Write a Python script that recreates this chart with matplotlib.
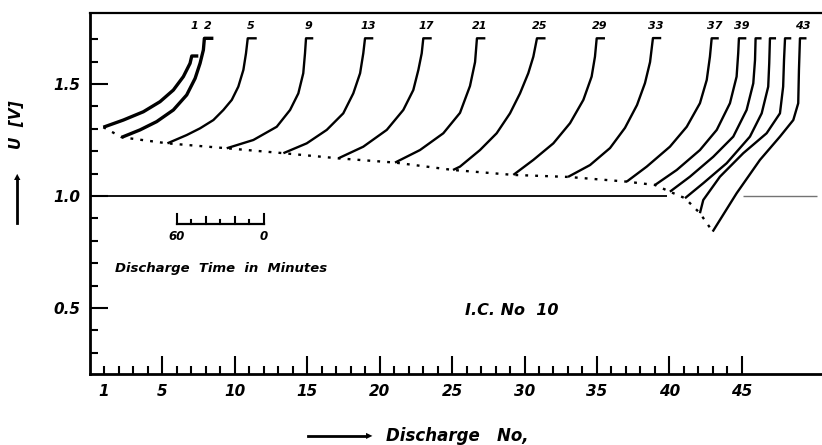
import numpy as np
from matplotlib import pyplot as plt

# charge curves, one per discharge number: x on the discharge axis, U in volts
x1 = [0.95, 2.33, 3.71, 4.86, 5.78, 6.47, 6.93, 7.05, 7.50]
u1 = [1.307, 1.339, 1.376, 1.421, 1.473, 1.533, 1.592, 1.625, 1.625]
x2 = [2.22, 3.48, 4.63, 5.78, 6.70, 7.28, 7.62, 7.85, 7.92, 8.54]
u2 = [1.262, 1.295, 1.332, 1.384, 1.451, 1.525, 1.592, 1.652, 1.704, 1.704]
x5 = [5.37, 6.70, 7.62, 8.54, 9.23, 9.81, 10.26, 10.61, 10.79, 10.91, 11.53]
u5 = [1.235, 1.272, 1.302, 1.339, 1.384, 1.429, 1.488, 1.563, 1.637, 1.704, 1.704]
x9 = [9.46, 11.30, 12.91, 13.83, 14.40, 14.74, 14.86, 14.93, 15.43]
u9 = [1.213, 1.250, 1.309, 1.384, 1.458, 1.548, 1.637, 1.704, 1.704]
x13 = [13.37, 14.98, 16.36, 17.50, 18.19, 18.66, 18.88, 19.00, 19.57]
u13 = [1.191, 1.235, 1.295, 1.369, 1.458, 1.548, 1.637, 1.704, 1.704]
x17 = [17.16, 18.88, 20.50, 21.64, 22.33, 22.68, 22.91, 23.02, 23.60]
u17 = [1.168, 1.220, 1.295, 1.384, 1.473, 1.563, 1.637, 1.704, 1.704]
x21 = [21.07, 22.79, 24.40, 25.55, 26.24, 26.59, 26.72, 27.30]
u21 = [1.149, 1.205, 1.280, 1.371, 1.491, 1.598, 1.704, 1.704]
x25 = [25.07, 25.55, 26.93, 28.08, 29.00, 29.69, 30.26, 30.61, 30.86, 31.45]
u25 = [1.116, 1.131, 1.205, 1.280, 1.369, 1.458, 1.548, 1.622, 1.704, 1.704]
x29 = [29.23, 30.61, 31.99, 33.14, 34.06, 34.63, 34.86, 34.98, 35.55]
u29 = [1.094, 1.161, 1.235, 1.325, 1.429, 1.533, 1.622, 1.704, 1.704]
x33 = [33.00, 34.52, 35.90, 36.93, 37.76, 38.31, 38.66, 38.86, 39.43]
u33 = [1.085, 1.138, 1.214, 1.304, 1.406, 1.504, 1.598, 1.705, 1.705]
x37 = [37.05, 38.43, 40.03, 41.19, 42.10, 42.57, 42.79, 42.91, 43.40]
u37 = [1.064, 1.131, 1.220, 1.309, 1.414, 1.518, 1.622, 1.704, 1.704]
x39 = [39.00, 40.50, 42.10, 43.26, 44.17, 44.63, 44.74, 44.79, 45.30]
u39 = [1.049, 1.116, 1.205, 1.295, 1.414, 1.533, 1.637, 1.704, 1.704]
x40 = [40.03, 41.41, 43.02, 44.40, 45.32, 45.78, 45.90, 45.94, 46.35]
u40 = [1.019, 1.086, 1.175, 1.265, 1.384, 1.503, 1.607, 1.704, 1.704]
x41 = [41.07, 42.33, 43.94, 45.55, 46.36, 46.81, 46.88, 46.93, 47.35]
u41 = [0.990, 1.057, 1.146, 1.265, 1.369, 1.488, 1.592, 1.704, 1.704]
x42 = [42.10, 42.33, 43.48, 45.09, 46.70, 47.62, 47.84, 47.90, 47.97, 48.40]
u42 = [0.923, 0.982, 1.086, 1.191, 1.280, 1.369, 1.488, 1.607, 1.704, 1.704]
x43 = [42.98, 44.63, 46.24, 47.62, 48.54, 48.88, 48.93, 49.00, 49.45]
u43 = [0.841, 1.012, 1.161, 1.265, 1.339, 1.414, 1.563, 1.704, 1.704]

curve_no = [1, 2, 5, 9, 13, 17, 21, 25, 29, 33, 37, 39, 40, 41, 42, 43]
curve_x = [x1, x2, x5, x9, x13, x17, x21, x25, x29, x33, x37, x39, x40, x41, x42, x43]
curve_u = [u1, u2, u5, u9, u13, u17, u21, u25, u29, u33, u37, u39, u40, u41, u42, u43]
labelled = [1, 2, 5, 9, 13, 17, 21, 25, 29, 33, 37, 39, 43]

x_ticks = [1, 5, 10, 15, 20, 25, 30, 35, 40, 45]
y_ticks = [0.5, 1.0, 1.5]
scale_min = [0, 10, 20, 30, 40, 50, 60]

font = dict(family="DejaVu Sans", weight="bold", style="italic")

fig = plt.figure(figsize=(8.22, 4.45), dpi=100)
ax = fig.add_axes([90 / 822, 1 - 374 / 445, 1 - 90 / 822, (374 - 13) / 445])

# reference line at 1.0 V (interrupted where the last curves cross it)
ax.hlines(1.0, 0, 39.8, color="k", lw=1.3)
ax.hlines(1.0, 45.1, 50.2, color="0.45", lw=1.0)

for n, xs, us in zip(curve_no, curve_x, curve_u):
    lw = 2.4 if n <= 2 else 1.7
    ax.plot(xs, us, c="k", lw=lw, solid_joinstyle="round", solid_capstyle="butt")
    if n in labelled:
        top = int(np.argmax(us))
        ax.text(xs[top] + 0.2, 1.76, str(n), ha="center", va="center",
                fontsize=8, **font)

# end-of-discharge voltages joined by the dotted line
ax.plot([xs[0] for xs in curve_x], [us[0] for us in curve_u],
        c="k", lw=1.7, ls=(0, (1.2, 3.0)))

# time scale bar (60 ... 0 minutes)
bar_x = [12 - m / 10 for m in scale_min]
ax.plot([bar_x[0], bar_x[-1]], [0.875, 0.875], c="k", lw=1.6)
for m, bx in zip(scale_min, bar_x):
    h = 0.045 if m in (0, 60) else (0.03 if m in (20, 40) else 0.018)
    ax.plot([bx, bx], [0.875, 0.875 + h], c="k", lw=1.5)
ax.text(bar_x[-1], 0.82, "60", ha="center", va="center", fontsize=8.5, **font)
ax.text(bar_x[0], 0.82, "0", ha="center", va="center", fontsize=8.5, **font)
ax.text(1.75, 0.674, "Discharge  Time  in  Minutes", ha="left", va="center",
        fontsize=9.5, **font)
ax.text(25.9, 0.487, "I.C. No  10", ha="left", va="center", fontsize=11.5, **font)

ax.set_xlim(0.03, 50.52)
ax.set_ylim(0.205, 1.817)

ax.set_xticks(x_ticks)
ax.set_xticklabels([str(t) for t in x_ticks], fontsize=11, **font)
ax.set_xticks([i for i in range(2, 45) if i % 5 != 0], minor=True)
ax.set_yticks(y_ticks)
ax.set_yticklabels([f"{t:.1f}" for t in y_ticks], fontsize=11, **font)
ax.set_yticks(np.arange(0.3, 1.75, 0.1), minor=True)
ax.tick_params(which="both", direction="in", width=1.5, top=False, right=False)
ax.tick_params(which="major", length=13, pad=7)
ax.tick_params(which="minor", length=6)
ax.xaxis.get_major_ticks()[0].tick1line.set_markersize(6)

ax.spines["right"].set_visible(False)
ax.spines["left"].set_linewidth(2.0)
ax.spines["bottom"].set_linewidth(2.0)
ax.spines["top"].set_linewidth(1.6)

# axis titles with the arrows of the original drawing
fig.text(16 / 822, 1 - 125 / 445, "U  [V]", rotation=90, ha="center",
         va="center", fontsize=11, **font)
fig.add_artist(plt.Line2D([17 / 822, 17 / 822], [1 - 223 / 445, 1 - 180 / 445],
                          color="k", lw=2))
fig.text(17 / 822, 1 - 177 / 445, "\u25b2", ha="center", va="center", fontsize=6)
fig.add_artist(plt.Line2D([308 / 822, 366 / 822], [1 - 436 / 445, 1 - 436 / 445],
                          color="k", lw=2))
fig.text(369 / 822, 1 - 436 / 445, "\u25b6", ha="center", va="center", fontsize=6)
fig.text(386 / 822, 1 - 436 / 445, "Discharge   No,", ha="left", va="center",
         fontsize=12, **font)

plt.savefig("out.png", dpi=100)
